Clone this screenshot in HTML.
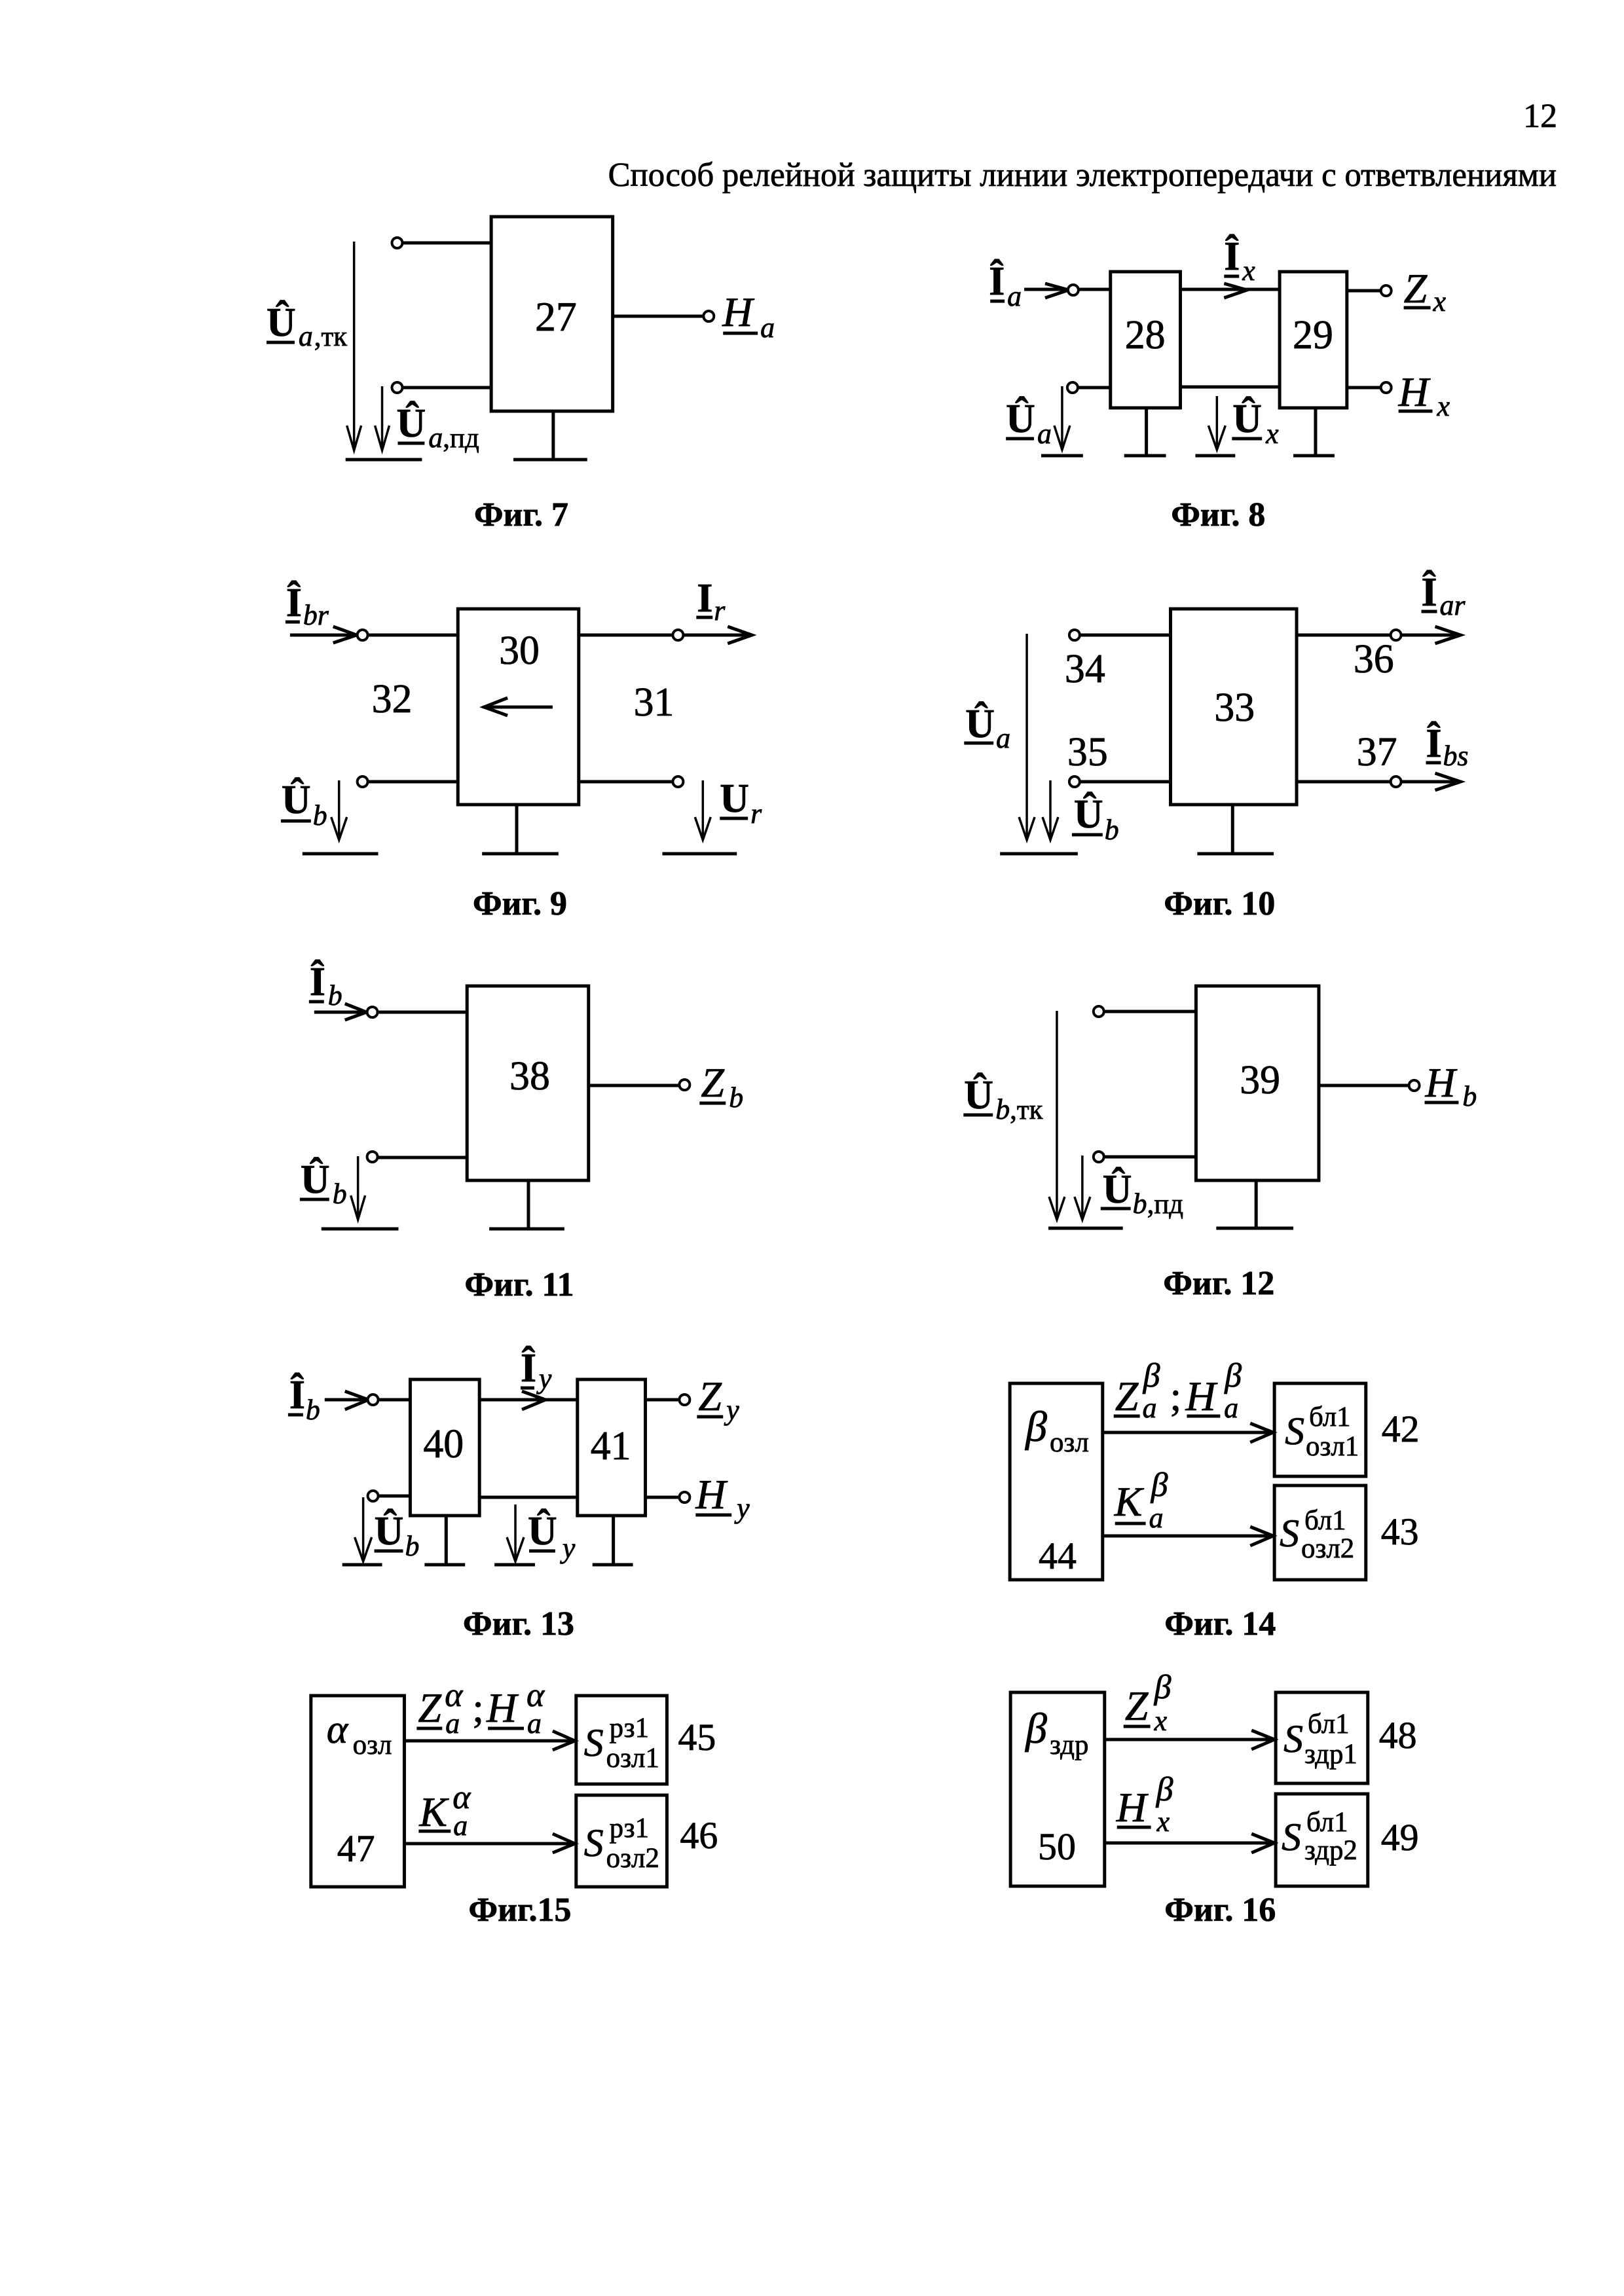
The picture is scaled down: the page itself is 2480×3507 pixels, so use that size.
<!DOCTYPE html>
<html lang="ru"><head><meta charset="utf-8"><title>Фиг. 7-16</title>
<style>
html,body{margin:0;padding:0;background:#fff}
svg{display:block}
text{font-family:"Liberation Serif","Noto Serif CJK SC",serif;fill:#000;stroke:#000;stroke-width:.8px}
.n{font-size:62px;text-anchor:middle}
.m{font-size:58px;text-anchor:middle}
.cap{font-size:52px;font-weight:bold;text-anchor:middle}
.U{font-size:62px;font-weight:bold}
.I{font-size:64px;font-style:italic}
.s{font-size:44px;font-style:italic}
.e{font-size:52px;font-style:italic}
.c{font-size:43px}
.g{font-size:66px;font-style:italic}
.S{font-size:60px;font-style:italic}
.h{font-size:52px}
.l{fill:none;stroke:#000;stroke-width:5}
.t{fill:none;stroke:#000;stroke-width:3.5}
.o{fill:#fff;stroke:#000;stroke-width:4}
</style></head><body>
<svg width="2480" height="3507" viewBox="0 0 2480 3507" xmlns="http://www.w3.org/2000/svg">
<rect width="2480" height="3507" fill="#fff"/>
<g transform="scale(.9975 1)">
<text class="h" x="2384" y="194" text-anchor="end">12</text>
<text class="h" x="931" y="284" textLength="1452" lengthAdjust="spacingAndGlyphs">Способ релейной защиты линии электропередачи с ответвлениями</text>

<!-- Fig 7 -->
<path class="l" d="M752 331H938V628H752ZM616 371H752M616 592H752M938 483H1077M847 628V702M786 702H899M529 702H646M408 523H451M609 677H650M1107 509H1160"/>
<path class="t" d="M542 369V688M585 590V688M531 650L542 688L553 650M574 650L585 688L596 650"/>
<circle class="o" cx="608" cy="371" r="8"/><circle class="o" cx="608" cy="592" r="8"/><circle class="o" cx="1085" cy="483" r="8"/>
<text class="n" x="851" y="505" style="font-size:64px">27</text>
<text class="U" x="408" y="513">Û</text><text class="s" x="457" y="528">a</text><text class="c" x="481" y="528">,тк</text>
<text class="U" x="607" y="667">Û</text><text class="s" x="656" y="683">a</text><text class="c" x="678" y="683">,пд</text>
<text class="I" x="1106" y="498">H</text><text class="s" x="1164" y="515">a</text>
<text class="cap" x="798" y="803">Фиг. 7</text>

<!-- Fig 8 -->
<path class="l" d="M1700 415H1807V623H1700ZM1959 415H2062V623H1959ZM1568 442H1636M1652 442H1700M1807 442H1959M1650 592H1700M1807 591H1959M2062 444H2114M2062 592H2114M1755 623V696M2014 623V696M1594 696H1658M1721 696H1785M1830 696H1891M1980 696H2043M1600 433L1636 443L1600 455M1874 433L1909 443L1874 455M1516 460H1538M1874 422H1897M2149 470H2190M2141 628H2193M1540 670H1583M1886 670H1932"/>
<path class="t" d="M1626 590V687M1863 605V687M1614 650L1626 687L1638 650M1850 650L1863 687L1876 650"/>
<circle class="o" cx="1643" cy="443" r="8"/><circle class="o" cx="1642" cy="592" r="8"/><circle class="o" cx="2122" cy="444" r="8"/><circle class="o" cx="2122" cy="592" r="8"/>
<text class="n" x="1753" y="532">28</text><text class="n" x="2010" y="532">29</text>
<text class="U" x="1514" y="450">Î</text><text class="s" x="1542" y="467">a</text>
<text class="U" x="1874" y="412">Î</text><text class="s" x="1902" y="428">x</text>
<text class="I" x="2149" y="462">Z</text><text class="s" x="2194" y="475">x</text>
<text class="I" x="2141" y="620">H</text><text class="s" x="2200" y="635">x</text>
<text class="U" x="1540" y="660">Û</text><text class="s" x="1588" y="677">a</text>
<text class="U" x="1887" y="660">Û</text><text class="s" x="1938" y="677">x</text>
<text class="cap" x="1865" y="803">Фиг. 8</text>

<!-- Fig 9 -->
<path class="l" d="M701 930H886V1229H701ZM444 970H547M563 970H701M886 970H1030M1046 970H1151M563 1194H701M886 1194H1030M791 1229V1304M738 1304H855M463 1304H579M1014 1304H1128M846 1080H742M777 1066L741 1080L777 1093M510 957L546 970L510 982M1114 957L1151 970L1114 983M437 950H459M1066 943H1091M430 1254H476M1102 1250H1145"/>
<path class="t" d="M519 1192V1283M1076 1192V1283M507 1248L519 1283L531 1248M1064 1248L1076 1283L1088 1248"/>
<circle class="o" cx="555" cy="970" r="8"/><circle class="o" cx="1038" cy="970" r="8"/><circle class="o" cx="555" cy="1194" r="8"/><circle class="o" cx="1038" cy="1194" r="8"/>
<text class="n" x="795" y="1014">30</text><text class="n" x="600" y="1088">32</text><text class="n" x="1001" y="1093">31</text>
<text class="U" x="438" y="941">Î</text><text class="s" x="464" y="954">br</text>
<text class="U" x="1067" y="934">I</text><text class="s" x="1093" y="947">r</text>
<text class="U" x="431" y="1242">Û</text><text class="s" x="479" y="1260">b</text>
<text class="U" x="1102" y="1240">U</text><text class="s" x="1149" y="1257">r</text>
<text class="cap" x="796" y="1397">Фиг. 9</text>

<!-- Fig 10 -->
<path class="l" d="M1792 930H1985V1229H1792ZM1654 970H1792M1985 970H2129M2145 970H2236M1654 1194H1792M1985 1194H2129M2145 1194H2236M1887 1229V1304M1833 1304H1950M1531 1304H1650M2197 957L2236 970L2197 983M2197 1181L2236 1194L2197 1207M1476 1135H1521M1641 1275H1688M2176 934H2200M2183 1165H2206"/>
<path class="t" d="M1572 968V1283M1608 1192V1283M1560 1248L1572 1283L1584 1248M1596 1248L1608 1283L1620 1248"/>
<circle class="o" cx="1645" cy="970" r="8"/><circle class="o" cx="1645" cy="1194" r="8"/><circle class="o" cx="2137" cy="970" r="8"/><circle class="o" cx="2137" cy="1194" r="8"/>
<text class="n" x="1890" y="1101">33</text><text class="n" x="1661" y="1042">34</text><text class="n" x="1665" y="1169">35</text><text class="n" x="2103" y="1027">36</text><text class="n" x="2108" y="1169">37</text>
<text class="U" x="1478" y="1126">Û</text><text class="s" x="1525" y="1142">a</text>
<text class="U" x="1644" y="1264">Û</text><text class="s" x="1691" y="1282">b</text>
<text class="U" x="2176" y="925">Î</text><text class="s" x="2204" y="939">ar</text>
<text class="U" x="2183" y="1156">Î</text><text class="s" x="2209" y="1169">bs</text>
<text class="cap" x="1867" y="1397">Фиг. 10</text>

<!-- Fig 11 -->
<path class="l" d="M715 1506H901V1803H715ZM481 1546H560M578 1546H715M578 1768H715M901 1658H1040M809 1803V1877M749 1877H864M492 1877H610M528 1533L561 1546L528 1558M473 1530H496M459 1832H504M1071 1685H1111"/>
<path class="t" d="M548 1766V1863M537 1826L548 1863L559 1826"/>
<circle class="o" cx="570" cy="1546" r="8"/><circle class="o" cx="570" cy="1767" r="8"/><circle class="o" cx="1048" cy="1657" r="8"/>
<text class="n" x="811" y="1664">38</text>
<text class="U" x="474" y="1520">Î</text><text class="s" x="502" y="1535">b</text>
<text class="U" x="460" y="1822">Û</text><text class="s" x="509" y="1838">b</text>
<text class="I" x="1073" y="1675">Z</text><text class="s" x="1116" y="1691">b</text>
<text class="cap" x="795" y="1979">Фиг. 11</text>

<!-- Fig 12 -->
<path class="l" d="M1831 1506H2019V1803H1831ZM1690 1545H1831M1690 1767H1831M2019 1658H2157M1923 1803V1876M1862 1876H1980M1605 1876H1719M1475 1703H1520M1685 1846H1731M2181 1684H2233"/>
<path class="t" d="M1618 1544V1863M1657 1765V1863M1606 1828L1618 1863L1630 1828M1645 1828L1657 1863L1669 1828"/>
<circle class="o" cx="1682" cy="1545" r="8"/><circle class="o" cx="1682" cy="1767" r="8"/><circle class="o" cx="2165" cy="1658" r="8"/>
<text class="n" x="1929" y="1670">39</text>
<text class="U" x="1476" y="1693">Û</text><text class="s" x="1524" y="1709">b</text><text class="c" x="1546" y="1709">,тк</text>
<text class="U" x="1688" y="1837">Û</text><text class="s" x="1734" y="1853">b</text><text class="c" x="1756" y="1853">,пд</text>
<text class="I" x="2182" y="1675">H</text><text class="s" x="2239" y="1689">b</text>
<text class="cap" x="1866" y="1977">Фиг. 12</text>

<!-- Fig 13 -->
<path class="l" d="M628 2107H734V2315H628ZM884 2107H988V2315H884ZM497 2138H563M579 2138H628M734 2138H884M579 2285H628M734 2287H884M988 2138H1040M988 2287H1040M683 2315V2390M939 2315V2390M524 2390H585M650 2390H712M757 2390H819M907 2390H969M528 2125L564 2138L528 2153M799 2125L835 2138L799 2153M441 2161H464M797 2120H818M1067 2164H1107M1065 2314H1120M573 2369H617M810 2369H850"/>
<path class="t" d="M556 2287V2385M789 2298V2385M543 2348L556 2385L569 2348M776 2348L789 2385L802 2348"/>
<circle class="o" cx="571" cy="2138" r="8"/><circle class="o" cx="571" cy="2285" r="8"/><circle class="o" cx="1048" cy="2138" r="8"/><circle class="o" cx="1048" cy="2287" r="8"/>
<text class="n" x="679" y="2226">40</text><text class="n" x="935" y="2229">41</text>
<text class="U" x="443" y="2151">Î</text><text class="s" x="468" y="2168">b</text>
<text class="U" x="797" y="2110">Î</text><text class="s" x="825" y="2120">y</text>
<text class="I" x="1069" y="2154">Z</text><text class="s" x="1112" y="2168">y</text>
<text class="I" x="1065" y="2304">H</text><text class="s" x="1128" y="2318">y</text>
<text class="U" x="573" y="2359">Û</text><text class="s" x="620" y="2376">b</text>
<text class="U" x="808" y="2359">Û</text><text class="s" x="861" y="2379">y</text>
<text class="cap" x="794" y="2497">Фиг. 13</text>

<!-- Fig 14 -->
<path class="l" d="M1546 2113H1688V2413H1546ZM1951 2113H2091V2255H1951ZM1951 2269H2091V2413H1951ZM1688 2188H1947M1688 2346H1947M1914 2174L1949 2188L1914 2203M1914 2332L1949 2346L1914 2361M1705 2163H1745M1817 2163H1868M1707 2327H1754"/>
<text class="g" x="1570" y="2201">β</text><text class="c" x="1607" y="2217">озл</text>
<text class="m" x="1619" y="2396">44</text>
<text class="I" x="1707" y="2154">Z</text><text class="s" x="1749" y="2165">a</text><text class="e" x="1750" y="2118">β</text>
<text class="I" x="1791" y="2154" style="font-style:normal">;</text>
<text class="I" x="1815" y="2154">H</text><text class="s" x="1874" y="2165">a</text><text class="e" x="1875" y="2118">β</text>
<text class="I" x="1706" y="2315">K</text><text class="s" x="1759" y="2333">a</text><text class="e" x="1762" y="2285">β</text>
<text class="S" x="1967" y="2206">S</text><text class="c" x="2004" y="2178">бл1</text><text class="c" x="1999" y="2223">озл1</text>
<text class="S" x="1959" y="2362">S</text><text class="c" x="1997" y="2336">бл1</text><text class="c" x="1992" y="2379">озл2</text>
<text class="m" x="2144" y="2202">42</text><text class="m" x="2143" y="2359">43</text>
<text class="cap" x="1868" y="2497">Фиг. 14</text>

<!-- Fig 15 -->
<path class="l" d="M476 2590H619V2882H476ZM882 2590H1021V2725H882ZM882 2742H1021V2882H882ZM619 2659H878M619 2816H878M846 2644L880 2659L846 2673M846 2801L880 2816L846 2830M638 2640H677M747 2640H802M641 2797H690"/>
<text class="g" x="500" y="2662" style="font-size:62px">α</text><text class="c" x="540" y="2679">озл</text>
<text class="m" x="545" y="2843">47</text>
<text class="I" x="640" y="2630">Z</text><text class="s" x="682" y="2647">a</text><text class="e" x="681" y="2606">α</text>
<text class="I" x="723" y="2630" style="font-style:normal">;</text>
<text class="I" x="745" y="2630">H</text><text class="s" x="807" y="2647">a</text><text class="e" x="806" y="2606">α</text>
<text class="I" x="642" y="2789">K</text><text class="s" x="694" y="2803">a</text><text class="e" x="693" y="2762">α</text>
<text class="S" x="894" y="2682">S</text><text class="c" x="933" y="2653">рз1</text><text class="c" x="928" y="2699">озл1</text>
<text class="S" x="894" y="2835">S</text><text class="c" x="933" y="2806">рз1</text><text class="c" x="928" y="2852">озл2</text>
<text class="m" x="1067" y="2673">45</text><text class="m" x="1070" y="2823">46</text>
<text class="cap" x="796" y="2934">Фиг.15</text>

<!-- Fig 16 -->
<path class="l" d="M1547 2585H1691V2881H1547ZM1953 2585H2094V2724H1953ZM1953 2740H2094V2881H1953ZM1691 2657H1949M1691 2815H1949M1916 2643L1951 2657L1916 2672M1916 2801L1951 2815L1916 2830M1720 2637H1761M1710 2791H1762"/>
<text class="g" x="1570" y="2662">β</text><text class="c" x="1607" y="2679">здр</text>
<text class="m" x="1618" y="2840">50</text>
<text class="I" x="1722" y="2627">Z</text><text class="s" x="1767" y="2643">x</text><text class="e" x="1767" y="2594">β</text>
<text class="I" x="1709" y="2782">H</text><text class="s" x="1771" y="2797">x</text><text class="e" x="1770" y="2750">β</text>
<text class="S" x="1965" y="2676">S</text><text class="c" x="2002" y="2647">бл1</text><text class="c" x="1997" y="2693">здр1</text>
<text class="S" x="1962" y="2826">S</text><text class="c" x="2000" y="2797">бл1</text><text class="c" x="1997" y="2840">здр2</text>
<text class="m" x="2140" y="2670">48</text><text class="m" x="2143" y="2826">49</text>
<text class="cap" x="1868" y="2934">Фиг. 16</text>
</g>
</svg>
</body></html>
